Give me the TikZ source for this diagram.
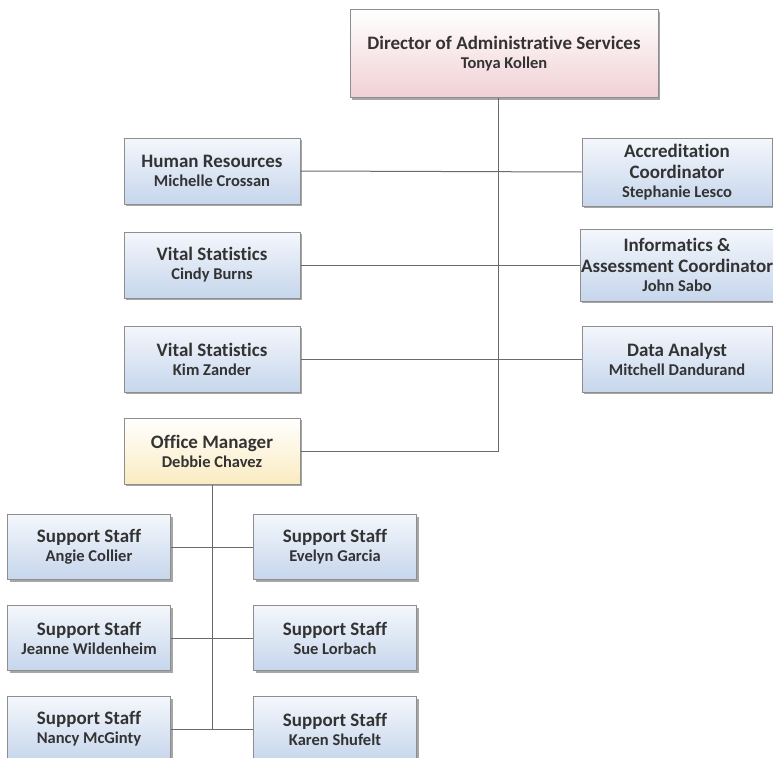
\documentclass[tikz,border=0pt]{standalone}
\usepackage{fontspec}
\setmainfont[Ligatures=NoCommon]{Carlito}
\usetikzlibrary{shadows}

\definecolor{boxline}{HTML}{8E8E8E}
\definecolor{wire}{HTML}{6A6A6A}
\definecolor{txt}{HTML}{333333}
\definecolor{blueTop}{HTML}{F4F7FC}
\definecolor{blueBot}{HTML}{C6D6EC}
\definecolor{pinkBot}{HTML}{F0D0D4}
\definecolor{yellowBot}{HTML}{FAEBC0}

\tikzset{
  orgbox/.style={draw=boxline, line width=1pt, text=txt, align=center,
    font=\fontsize{19}{21}\selectfont\bfseries, inner sep=1pt,
    drop shadow={shadow xshift=2pt, shadow yshift=-2pt, opacity=0.35, fill=black}},
  bluebox/.style={orgbox, top color=blueTop, bottom color=blueBot,
    minimum width=176pt, minimum height=66pt},
  staffbox/.style={bluebox, minimum width=163pt, minimum height=65pt},
  wireline/.style={draw=wire, line width=1pt}
}
\newcommand{\who}[1]{\\[-2pt]{\fontsize{16.5}{18}\selectfont #1}}

\begin{document}
\begin{tikzpicture}[x=1pt,y=-1pt]
		\useasboundingbox (0,0) rectangle (773,757);
		% top
		\node[orgbox, top color=white, bottom color=pinkBot, minimum width=308pt, minimum height=88pt]
			(dir) at (504,54) {Director of Administrative Services\who{Tonya Kollen}};
		% left column
		\node[bluebox] (hr) at (212,171) {Human Resources\who{Michelle Crossan}};
		\node[bluebox] (vs1) at (212,265) {Vital Statistics\who{Cindy Burns}};
		\node[bluebox] (vs2) at (212,359) {Vital Statistics\who{Kim Zander}};
		\node[orgbox, top color=white, bottom color=yellowBot, minimum width=176pt, minimum height=66pt]
			(om) at (212,451) {Office Manager\who{Debbie Chavez}};
		% right column
		\node[bluebox, minimum width=190pt, minimum height=68pt] (acc) at (677,172) {Accreditation\\Coordinator\who{Stephanie Lesco}};
		\node[bluebox, minimum width=190pt, minimum height=72pt] (inf) at (677,265) {Informatics \&\\Assessment Coordinator\who{John Sabo}};
		\node[bluebox, minimum width=190pt] (da) at (677,359) {Data Analyst\who{Mitchell Dandurand}};
		% support staff
		\node[staffbox] (s1) at (89,547) {Support Staff\who{Angie Collier}};
		\node[staffbox] (s2) at (335,547) {Support Staff\who{Evelyn Garcia}};
		\node[staffbox] (s3) at (89,638) {Support Staff\who{Jeanne Wildenheim}};
		\node[staffbox] (s4) at (335,638) {Support Staff\who{Sue Lorbach}};
		\node[staffbox] (s5) at (89,729) {Support Staff\who{Nancy McGinty}};
		\node[staffbox] (s6) at (335,729) {Support Staff\who{Karen Shufelt}};
		% lines
		\coordinate (trunk) at (498,98);
		\draw[wireline] (trunk) |- (om.east);
		\draw[wireline] (hr.east) -- (acc.west);
		\draw[wireline] (vs1.east) -- (inf.west);
		\draw[wireline] (vs2.east) -- (da.west);
		\draw[wireline] (om.south) -- (om.south |- s5.east);
		\draw[wireline] (s1.east) -- (s2.west);
		\draw[wireline] (s3.east) -- (s4.west);
		\draw[wireline] (s5.east) -- (s6.west);
	\end{tikzpicture}
\end{document}
